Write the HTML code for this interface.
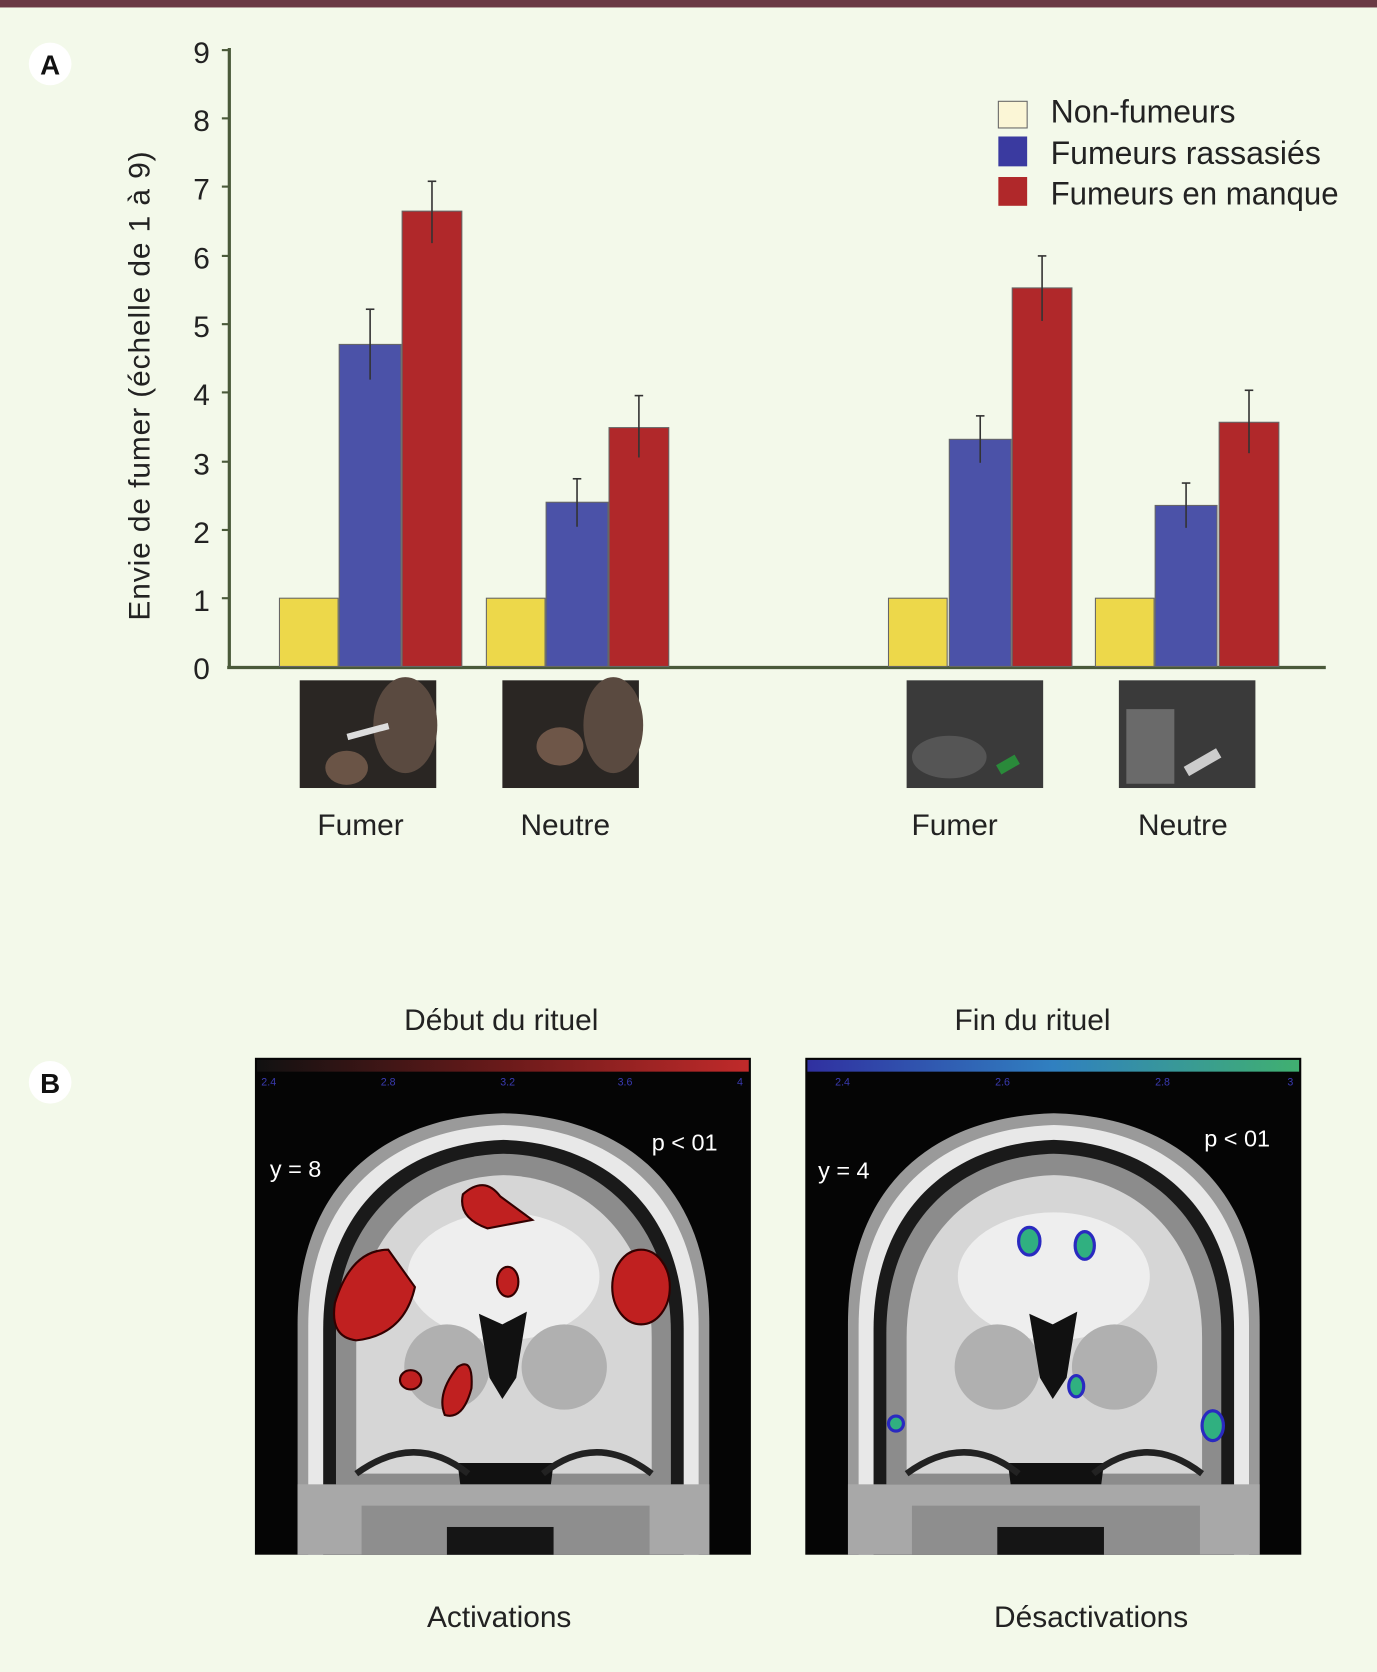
<!DOCTYPE html>
<html><head><meta charset="utf-8"><style>
html,body{margin:0;padding:0;background:#f3f9ea;}
svg{display:block;font-family:"Liberation Sans",sans-serif;}
</style></head><body>
<svg width="1377" height="1672" viewBox="0 0 1291 1568" preserveAspectRatio="none" xmlns="http://www.w3.org/2000/svg">
<defs>
<g id="head">
  <rect x="0" y="0" width="465" height="466" fill="#050505"/>
  <path d="M40,466 L40,250 C40,120 120,55 233,52 C346,55 426,120 426,250 L426,466 Z" fill="#9a9a9a"/>
  <path d="M50,466 L50,252 C50,130 128,66 233,63 C338,66 416,130 416,252 L416,466 Z" fill="#e8e8e8"/>
  <path d="M64,466 L64,255 C64,142 138,80 233,77 C328,80 402,142 402,255 L402,466 Z" fill="#1a1a1a"/>
  <path d="M76,400 L76,258 C76,152 146,92 233,90 C320,92 390,152 390,258 L390,400 Z" fill="#8c8c8c"/>
  <path d="M95,390 L95,262 C95,170 155,112 233,110 C311,112 372,170 372,262 L372,390 Z" fill="#d6d6d6"/>
  <ellipse cx="233" cy="205" rx="90" ry="60" fill="#eeeeee"/>
  <ellipse cx="180" cy="290" rx="40" ry="40" fill="#b0b0b0"/>
  <ellipse cx="290" cy="290" rx="40" ry="40" fill="#b0b0b0"/>
  <path d="M210,240 L232,250 L255,238 L245,300 L232,320 L220,300 Z" fill="#111"/>
  <path d="M190,380 L280,380 L270,460 L200,460 Z" fill="#111"/>
  <rect x="40" y="400" width="386" height="66" fill="#a8a8a8"/>
  <rect x="100" y="420" width="270" height="46" fill="#8e8e8e"/>
  <rect x="180" y="440" width="100" height="26" fill="#151515"/>
  <path d="M95,390 Q150,350 200,390" stroke="#222" stroke-width="6" fill="none"/>
  <path d="M270,390 Q320,350 372,390" stroke="#222" stroke-width="6" fill="none"/>
</g>
</defs>
<rect x="0" y="0" width="1291" height="1568" fill="#f3f9ea"/>
<rect x="0" y="0" width="1291" height="7" fill="#6b3a45"/>

<circle cx="47" cy="60" r="20" fill="#fff"/>
<text x="47" y="70" font-size="26" font-weight="bold" text-anchor="middle" fill="#111">A</text>

<g stroke="#4a5a3a" stroke-width="3">
  <line x1="215" y1="45" x2="215" y2="627"/>
  <line x1="213" y1="626" x2="1243" y2="626"/>
</g>
<g stroke="#4a5a3a" stroke-width="2">
  <line x1="208" y1="47" x2="215" y2="47"/><line x1="208" y1="111" x2="215" y2="111"/>
  <line x1="208" y1="175" x2="215" y2="175"/><line x1="208" y1="240" x2="215" y2="240"/>
  <line x1="208" y1="304" x2="215" y2="304"/><line x1="208" y1="368" x2="215" y2="368"/>
  <line x1="208" y1="433" x2="215" y2="433"/><line x1="208" y1="497" x2="215" y2="497"/>
  <line x1="208" y1="561" x2="215" y2="561"/>
</g>
<g font-size="28" fill="#222" text-anchor="middle">
  <text x="189" y="59">9</text><text x="189" y="123">8</text><text x="189" y="187">7</text>
  <text x="189" y="252">6</text><text x="189" y="316">5</text><text x="189" y="380">4</text>
  <text x="189" y="445">3</text><text x="189" y="509">2</text><text x="189" y="573">1</text>
  <text x="189" y="637">0</text>
</g>
<text transform="translate(140,362) rotate(-90)" font-size="28" fill="#222" text-anchor="middle" textLength="440" lengthAdjust="spacing">Envie de fumer (échelle de 1 à 9)</text>

<g stroke="#666" stroke-width="1">
<rect x="262" y="561" width="55" height="64" fill="#edd84a"/>
<rect x="318" y="323" width="58" height="302" fill="#4b52a8"/>
<rect x="377" y="198" width="56" height="427" fill="#b0282a"/>
<rect x="456" y="561" width="55" height="64" fill="#edd84a"/>
<rect x="512" y="471" width="58" height="154" fill="#4b52a8"/>
<rect x="571" y="401" width="56" height="224" fill="#b0282a"/>
<rect x="833" y="561" width="55" height="64" fill="#edd84a"/>
<rect x="890" y="412" width="58" height="213" fill="#4b52a8"/>
<rect x="949" y="270" width="56" height="355" fill="#b0282a"/>
<rect x="1027" y="561" width="55" height="64" fill="#edd84a"/>
<rect x="1083" y="474" width="58" height="151" fill="#4b52a8"/>
<rect x="1143" y="396" width="56" height="229" fill="#b0282a"/>
</g>
<g stroke="#333" stroke-width="1.5">
<line x1="347" y1="290" x2="347" y2="356"/><line x1="343" y1="290" x2="351" y2="290"/>
<line x1="405" y1="170" x2="405" y2="228"/><line x1="401" y1="170" x2="409" y2="170"/>
<line x1="541" y1="449" x2="541" y2="494"/><line x1="537" y1="449" x2="545" y2="449"/>
<line x1="599" y1="371" x2="599" y2="429"/><line x1="595" y1="371" x2="603" y2="371"/>
<line x1="919" y1="390" x2="919" y2="434"/><line x1="915" y1="390" x2="923" y2="390"/>
<line x1="977" y1="240" x2="977" y2="301"/><line x1="973" y1="240" x2="981" y2="240"/>
<line x1="1112" y1="453" x2="1112" y2="495"/><line x1="1108" y1="453" x2="1116" y2="453"/>
<line x1="1171" y1="366" x2="1171" y2="425"/><line x1="1167" y1="366" x2="1175" y2="366"/>
</g>

<rect x="936" y="95" width="27" height="25" fill="#fbf6d6" stroke="#666"/>
<rect x="936" y="128" width="27" height="28" fill="#3a3aa0"/>
<rect x="936" y="166" width="27" height="27" fill="#b0282a"/>
<g font-size="30" fill="#222">
<text x="985" y="115">Non-fumeurs</text>
<text x="985" y="154">Fumeurs rassasiés</text>
<text x="985" y="192" textLength="270" lengthAdjust="spacingAndGlyphs">Fumeurs en manque</text>
</g>

<rect x="281" y="638" width="128" height="101" fill="#2a2623"/>
<ellipse cx="380" cy="680" rx="30" ry="45" fill="#5a4a40"/>
<ellipse cx="325" cy="720" rx="20" ry="16" fill="#6a5446"/>
<rect x="325" y="683" width="40" height="6" fill="#ddd" transform="rotate(-15 345 686)"/>
<rect x="471" y="638" width="128" height="101" fill="#2a2623"/>
<ellipse cx="575" cy="680" rx="28" ry="45" fill="#5a4a40"/>
<ellipse cx="525" cy="700" rx="22" ry="18" fill="#6e5648"/>
<rect x="850" y="638" width="128" height="101" fill="#3a3a3a"/>
<ellipse cx="890" cy="710" rx="35" ry="20" fill="#555"/>
<rect x="935" y="712" width="20" height="10" fill="#2a8a3a" transform="rotate(-30 945 717)"/>
<rect x="1049" y="638" width="128" height="101" fill="#3a3a3a"/>
<rect x="1056" y="665" width="45" height="70" fill="#6a6a6a"/>
<rect x="1110" y="710" width="35" height="10" fill="#ccc" transform="rotate(-30 1127 715)"/>
<g font-size="28" fill="#222" text-anchor="middle">
<text x="338" y="783">Fumer</text><text x="530" y="783">Neutre</text>
<text x="895" y="783">Fumer</text><text x="1109" y="783">Neutre</text>
</g>

<circle cx="47" cy="1015" r="20" fill="#fff"/>
<text x="47" y="1025" font-size="26" font-weight="bold" text-anchor="middle" fill="#111">B</text>
<g font-size="28" fill="#222" text-anchor="middle">
<text x="470" y="966">Début du rituel</text>
<text x="968" y="966">Fin du rituel</text>
<text x="468" y="1526">Activations</text>
<text x="1023" y="1526">Désactivations</text>
</g>

<g transform="translate(239,992)">
  <use href="#head"/>
  <defs><linearGradient id="rg" x1="0" x2="1"><stop offset="0" stop-color="#111"/><stop offset="0.5" stop-color="#6a1a1a"/><stop offset="1" stop-color="#c02a2a"/></linearGradient></defs>
  <rect x="2" y="2" width="461" height="11" fill="url(#rg)"/>
  <g font-size="10" fill="#3a3ab0"><text x="6" y="26">2.4</text><text x="118" y="26">2.8</text><text x="230" y="26">3.2</text><text x="340" y="26">3.6</text><text x="452" y="26">4</text></g>
  <g fill="#c02020" stroke="#300" stroke-width="2">
    <path d="M195,128 Q215,110 230,130 L260,152 L218,160 Q190,150 195,128Z"/>
    <path d="M75,230 Q90,180 125,180 L150,215 Q140,260 95,265 Q70,262 75,230Z"/>
    <ellipse cx="362" cy="215" rx="27" ry="35"/>
    <ellipse cx="237" cy="210" rx="10" ry="14"/>
    <ellipse cx="146" cy="302" rx="10" ry="9"/>
    <path d="M190,290 Q205,280 203,310 Q195,340 178,335 Q170,315 190,290Z"/>
  </g>
  <g font-size="22" fill="#fff"><text x="14" y="112">y = 8</text><text x="372" y="87">p &lt; 01</text></g>
</g>

<g transform="translate(755,992)">
  <use href="#head"/>
  <defs><linearGradient id="bg2" x1="0" x2="1"><stop offset="0" stop-color="#3030a0"/><stop offset="0.5" stop-color="#3080c0"/><stop offset="1" stop-color="#40b070"/></linearGradient></defs>
  <rect x="2" y="2" width="461" height="11" fill="url(#bg2)"/>
  <g font-size="10" fill="#3a3ab0"><text x="28" y="26">2.4</text><text x="178" y="26">2.6</text><text x="328" y="26">2.8</text><text x="452" y="26">3</text></g>
  <g fill="#30b080" stroke="#2a2ac0" stroke-width="3">
    <ellipse cx="210" cy="172" rx="10" ry="13"/>
    <ellipse cx="262" cy="176" rx="9" ry="13"/>
    <ellipse cx="254" cy="308" rx="7" ry="10"/>
    <ellipse cx="85" cy="343" rx="7" ry="7"/>
    <ellipse cx="382" cy="345" rx="10" ry="14"/>
  </g>
  <g font-size="22" fill="#fff"><text x="12" y="113">y = 4</text><text x="374" y="83">p &lt; 01</text></g>
</g>
</svg>
</body></html>
